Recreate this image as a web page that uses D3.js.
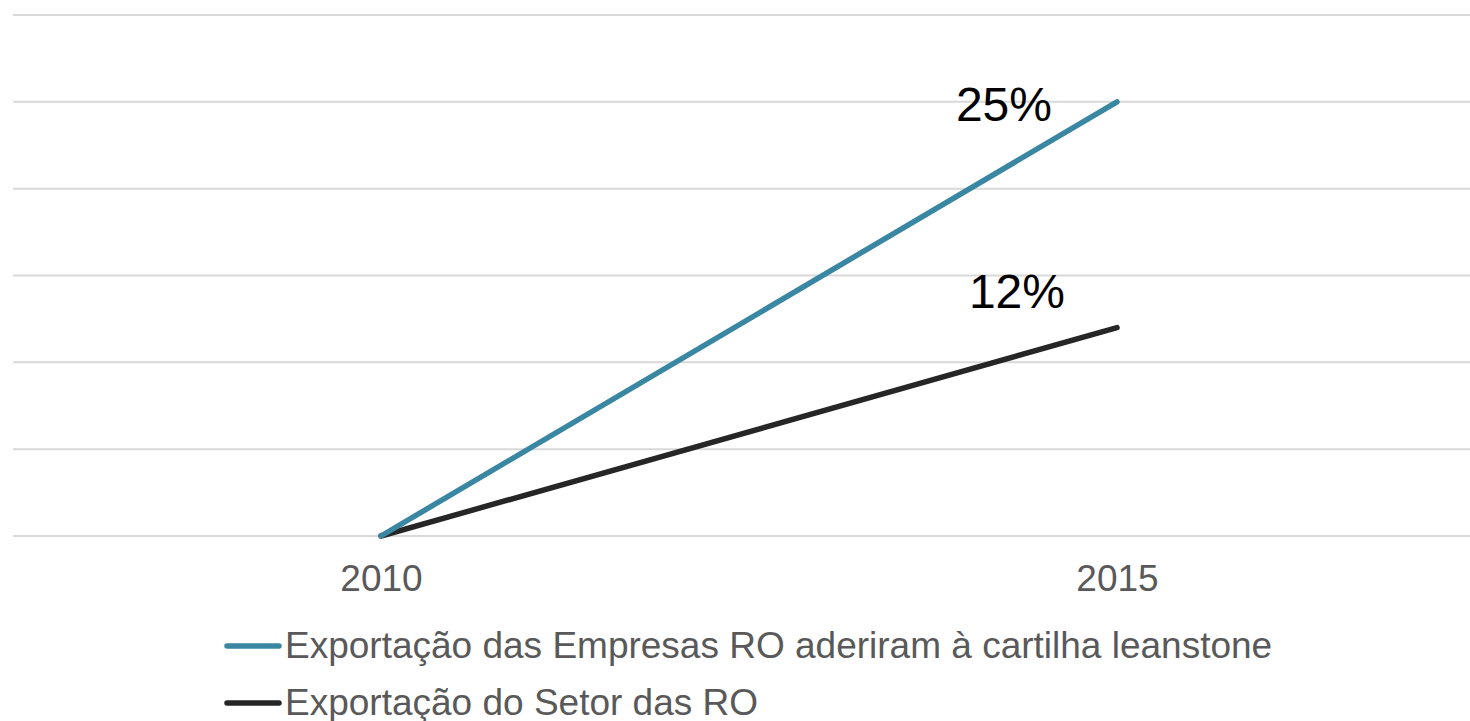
<!DOCTYPE html>
<html>
<head>
<meta charset="utf-8">
<script src="https://cdn.jsdelivr.net/npm/d3@7"></script>
<style>
	body { margin: 0; background: #fff; }
	text { font-family: "Liberation Sans", Arial, sans-serif; }
</style>
</head>
<body>
<svg></svg>
<script>
var years = ['2010', '2015']
var seriesNames = ['Exportação das Empresas RO aderiram à cartilha leanstone', 'Exportação do Setor das RO']
var seriesValues = [[0, 25], [0, 12]]
var labelTexts = ['25%', '12%']
var yTicks = [0, 5, 10, 15, 20, 25, 30]

function main() {
	var width = 1470,
		height = 721;

	var svg = d3.select("svg")
		.attr("width", width)
		.attr("height", height)

	var colors = ['#3A87A3', '#262626']

	var xScale = d3.scalePoint()
		.domain(years)
		.range([13, 1485])
		.padding(0.5);

	var yScale = d3.scaleLinear()
		.domain([0, 30])
		.range([536, 15]);

	// gridlines
	svg.append("g")
		.selectAll("line")
		.data(yTicks)
		.enter().append("line")
		.attr("x1", 13)
		.attr("x2", width)
		.attr("y1", function (d) { return yScale(d); })
		.attr("y2", function (d) { return yScale(d); })
		.style("stroke", "#D9D9D9")
		.style("stroke-width", 2);

	// axis-x
	var xAxis = svg.append("g")
		.attr("transform", "translate(0," + yScale(0) + ")")
		.call(d3.axisBottom(xScale).tickSize(0).tickPadding(29));
	xAxis.select(".domain").remove();
	xAxis.selectAll("text")
		.style("font-size", "37px")
		.style("font-family", "Liberation Sans, Arial, sans-serif")
		.attr("fill", "#595959");

	var valueline = d3.line()
		.x(function (d, i) { return xScale(years[i]); })
		.y(function (d) { return yScale(d); });

	// draw black series under blue
	for (var s = seriesValues.length - 1; s >= 0; s--) {
		svg.append("path")
			.datum(seriesValues[s])
			.attr("d", valueline)
			.style("fill", "none")
			.style("stroke", colors[s])
			.style("stroke-width", 5.5)
			.style("stroke-linecap", "round");
	}

	// data labels at last point
	var labelOffsets = [[-65, 19], [-52, -20]]
	seriesValues.forEach(function (vals, s) {
		var last = vals.length - 1;
		svg.append("text")
			.attr("x", xScale(years[last]) + labelOffsets[s][0])
			.attr("y", yScale(vals[last]) + labelOffsets[s][1])
			.attr("text-anchor", "end")
			.style("font-size", "48px")
			.attr("fill", "#000")
			.text(labelTexts[s]);
	});

	// legend
	var legend = svg.append("g");
	seriesNames.forEach(function (name, s) {
		var ly = 646 + s * 57;
		legend.append("line")
			.attr("x1", 227)
			.attr("x2", 279)
			.attr("y1", ly)
			.attr("y2", ly)
			.style("stroke", colors[s])
			.style("stroke-width", 5.5)
			.style("stroke-linecap", "round");
		legend.append("text")
			.attr("x", 285)
			.attr("y", ly + 12)
			.style("font-size", "37px")
			.attr("fill", "#595959")
			.text(name);
	});
}
main()
</script>
</body>
</html>
